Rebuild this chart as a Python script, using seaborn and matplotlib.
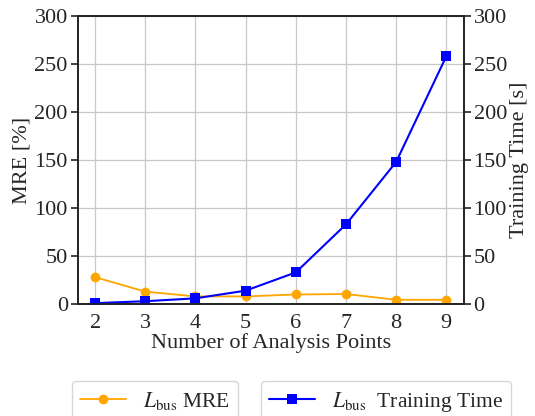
import matplotlib
matplotlib.use("Agg")
import matplotlib.pyplot as plt
import seaborn as sns
import pandas as pd

# Number of analysis points and measured metrics
analysis_points = [2, 3, 4, 5, 6, 7, 8, 9]
mre_percent = [28, 13, 8, 8, 10, 10.5, 4.5, 4.5]
training_time_s = [1, 3, 6, 14, 33, 83, 148, 258]
y_ticks = [0, 50, 100, 150, 200, 250, 300]

df = pd.DataFrame({
    "points": analysis_points,
    "mre": mre_percent,
    "time": training_time_s,
})

sns.set_style("white")
plt.rcParams["font.family"] = ["Liberation Serif", "DejaVu Serif"]
plt.rcParams["mathtext.fontset"] = "stix"
plt.rcParams["font.size"] = 16

fig = plt.figure(figsize=(5.35, 4.16), dpi=100)
ax = fig.add_axes([0.145, 0.269, 0.722, 0.6925])
ax2 = ax.twinx()

sns.lineplot(data=df, x="points", y="mre", ax=ax, color="orange",
             marker="o", markersize=7, markeredgewidth=0, linewidth=1.3,
             label=r"$L_{\mathrm{bus}}$ MRE", legend=False)
sns.lineplot(data=df, x="points", y="time", ax=ax2, color="blue",
             marker="s", markersize=7, markeredgewidth=0, linewidth=1.5,
             label=r"$L_{\mathrm{bus}}$  Training Time", legend=False)

for a in (ax, ax2):
    a.set_ylim(0, 300)
    a.set_yticks(y_ticks)
    for s in a.spines.values():
        s.set_color("#222222")
        s.set_linewidth(1.2)
    a.tick_params(direction="out", length=5, width=1.2, labelsize=16,
                  pad=2, color="#222222", left=(a is ax), right=(a is ax2))

ax.set_xticks(analysis_points)
ax.grid(True, color="#c8c8c8", linewidth=0.9)
ax.set_axisbelow(True)
ax.set_xlabel("Number of Analysis Points", fontsize=16, labelpad=0)
ax.set_ylabel("MRE [%]", fontsize=16, labelpad=2)
ax2.set_ylabel("Training Time [s]", fontsize=16, labelpad=2)

h1, l1 = ax.get_legend_handles_labels()
h2, l2 = ax2.get_legend_handles_labels()
fig.legend(h1, l1, loc="upper center", bbox_to_anchor=(155 / 535, 1 - 381 / 416),
           borderaxespad=0, fontsize=15.5, frameon=True, edgecolor="#cccccc",
           handlelength=2.1)
fig.legend(h2, l2, loc="upper center", bbox_to_anchor=(386 / 535, 1 - 381 / 416),
           borderaxespad=0, fontsize=15.5, frameon=True, edgecolor="#cccccc",
           handlelength=2.1)

fig.savefig("out.png", dpi=100)
